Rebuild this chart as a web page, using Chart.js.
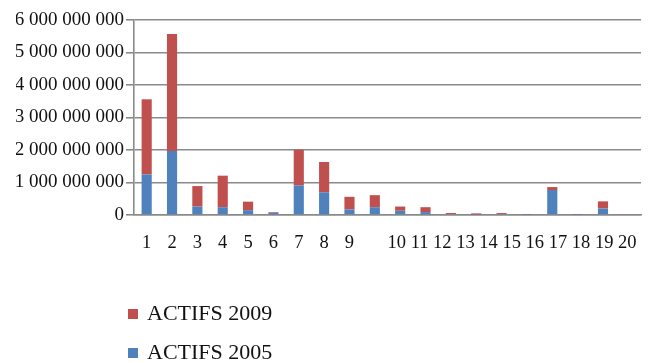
<!DOCTYPE html>
<html>
<head>
<meta charset="utf-8">
<script src="https://cdn.jsdelivr.net/npm/chart.js@4/dist/chart.umd.min.js"></script>
<style>
  html, body { margin: 0; padding: 0; background: #fff; }
  #wrap { width: 650px; height: 363px; position: relative; }
</style>
</head>
<body>
<div id="wrap"><canvas id="c" width="650" height="363"></canvas></div>
<script>
// Categories 1..20 (the 20th has no data)
const categories = ['1','2','3','4','5','6','7','8','9','10','11','12','13','14','15','16','17','18','19','20'];

// Assets per category, stacked: 2005 at the bottom, 2009 on top
const actifs2005 = [1.25e9, 1.97e9, 0.26e9, 0.24e9, 0.15e9, 0.07e9, 0.91e9, 0.70e9, 0.17e9, 0.24e9,
                    0.13e9, 0.09e9, 0.03e9, 0.01e9, 0.03e9, 0.01e9, 0.77e9, 0.01e9, 0.20e9, null];
const actifs2009 = [2.31e9, 3.60e9, 0.63e9, 0.97e9, 0.26e9, 0.02e9, 1.10e9, 0.93e9, 0.39e9, 0.37e9,
                    0.13e9, 0.15e9, 0.03e9, 0.04e9, 0.03e9, 0.01e9, 0.09e9, 0.01e9, 0.22e9, null];

// Value axis ticks
const yTicks = [0, 1e9, 2e9, 3e9, 4e9, 5e9, 6e9];

const seriesNames = ['ACTIFS 2005', 'ACTIFS 2009'];
const seriesColors = ['#4F81BD', '#C0504D'];

const SERIF = '"Liberation Serif", "Times New Roman", serif';
const GRID = '#8a8a8a';

function groupThousands(v) {
  return String(Math.round(v)).replace(/\B(?=(\d{3})+(?!\d))/g, ' ');
}

// Category labels: 1-9 sit under their bars, 10-20 run together as one line
const categoryLabels = {
  id: 'categoryLabels',
  afterDraw(chart) {
    const { ctx, chartArea } = chart;
    const x = chart.scales.x;
    const y = chartArea.bottom + 28;
    ctx.save();
    ctx.font = '18.5px ' + SERIF;
    ctx.fillStyle = '#111';
    ctx.textBaseline = 'middle';
    ctx.textAlign = 'center';
    for (let i = 0; i < 9; i++) {
      ctx.fillText(categories[i], x.getPixelForValue(i), y);
    }
    const start = (x.getPixelForValue(9) + x.getPixelForValue(10)) / 2;
    ctx.textAlign = 'left';
    ctx.fillText(categories.slice(9).join(' '), start, y);
    ctx.restore();
  }
};

// Legend stacked vertically below the chart, last series first
const stackedLegend = {
  id: 'stackedLegend',
  afterDraw(chart) {
    const { ctx, chartArea } = chart;
    const sets = chart.data.datasets.slice().reverse();
    ctx.save();
    ctx.font = '22px ' + SERIF;
    ctx.textBaseline = 'middle';
    ctx.textAlign = 'left';
    sets.forEach((ds, k) => {
      const yc = chartArea.bottom + 99 + k * 39;
      const x0 = chartArea.left - 6;
      ctx.fillStyle = ds.backgroundColor;
      ctx.fillRect(x0, yc - 5, 10, 10);
      ctx.fillStyle = '#111';
      ctx.fillText(ds.label, x0 + 19, yc);
    });
    ctx.restore();
  }
};

new Chart(document.getElementById('c'), {
  type: 'bar',
  data: {
    labels: categories,
    datasets: [
      { label: seriesNames[0], data: actifs2005, backgroundColor: seriesColors[0] },
      { label: seriesNames[1], data: actifs2009, backgroundColor: seriesColors[1] }
    ]
  },
  options: {
    responsive: false,
    animation: false,
    devicePixelRatio: 1,
    barPercentage: 0.4,
    categoryPercentage: 1,
    layout: { padding: { left: 16, right: 9, top: 20, bottom: 140 } },
    plugins: { legend: { display: false }, tooltip: { enabled: false } },
    scales: {
      x: {
        stacked: true,
        ticks: { display: false },
        grid: { display: false },
        border: { color: GRID, width: 1.6 }
      },
      y: {
        stacked: true,
        min: yTicks[0],
        max: yTicks[yTicks.length - 1],
        afterBuildTicks(scale) { scale.ticks = yTicks.map(v => ({ value: v })); },
        afterFit(scale) { scale.width = 118; },
        ticks: {
          font: { family: SERIF, size: 19 },
          color: '#111',
          padding: 2,
          callback: v => groupThousands(v)
        },
        grid: { color: GRID, lineWidth: 1.6, tickLength: 8 },
        border: { color: GRID, width: 1.6 }
      }
    }
  },
  plugins: [categoryLabels, stackedLegend]
});
</script>
</body>
</html>
